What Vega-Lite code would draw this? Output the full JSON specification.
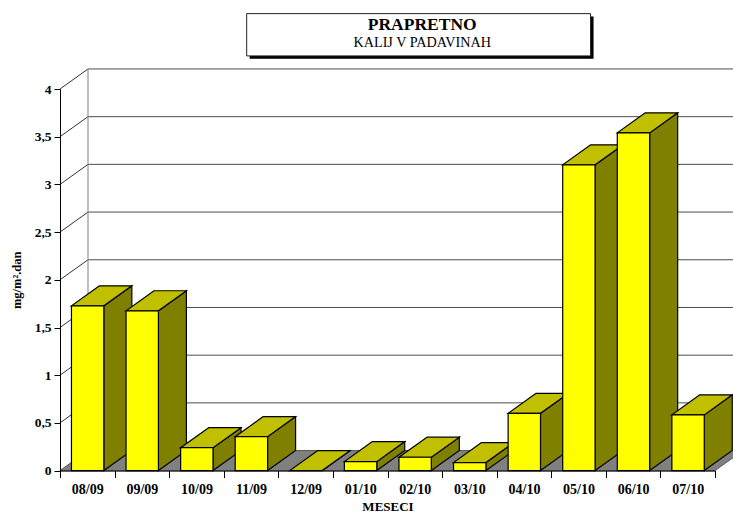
{
"$schema":"https://vega.github.io/schema/vega-lite/v6.json",
"autosize":{"type":"none"},
"padding":{"left":60,"top":89,"right":18,"bottom":43.4},
"width":655,"height":381.6,
"background":"white",
"config":{"view":{"stroke":null}},
"title":{"text":"PRAPRETNO","subtitle":"KALIJ V PADAVINAH","anchor":"middle","dx":34.7,"offset":-37,"font":"Liberation Serif","fontWeight":"bold","fontSize":17.5,"color":"black","subtitleFont":"Liberation Serif","subtitleFontSize":14.2,"subtitleColor":"black","subtitlePadding":2},
"datasets":{
"bars":[
{"month":"08/09","i":0,"value":1.727},
{"month":"09/09","i":1,"value":1.675},
{"month":"10/09","i":2,"value":0.24},
{"month":"11/09","i":3,"value":0.356},
{"month":"12/09","i":4,"value":0},
{"month":"01/10","i":5,"value":0.094},
{"month":"02/10","i":6,"value":0.14},
{"month":"03/10","i":7,"value":0.084},
{"month":"04/10","i":8,"value":0.6},
{"month":"05/10","i":9,"value":3.205},
{"month":"06/10","i":10,"value":3.54},
{"month":"07/10","i":11,"value":0.584}],
"levels":[{"level":0},{"level":0.5},{"level":1},{"level":1.5},{"level":2},{"level":2.5},{"level":3},{"level":3.5},{"level":4}],
"depth":[{"d":0},{"d":1}],
"box":[{"name":"title"}]
},
"encoding":{
  "y":{"type":"quantitative","scale":{"domain":[0,4],"nice":false},"title":"mg/m².dan",
   "axis":{"values":[0,0.5,1,1.5,2,2.5,3,3.5,4],"grid":false,"title":"mg/m².dan","labelExpr":"replace(format(datum.value,''),'.',',')","labelFont":"Liberation Serif","labelFontWeight":"bold","labelFontSize":13.5,"labelColor":"black","labelPadding":3,"tickColor":"black","tickSize":6,"domainColor":"black","titleFont":"Liberation Serif","titleFontWeight":"bold","titleFontSize":12.5,"titleColor":"black","titlePadding":11,"zindex":1}},
  "x":{"type":"quantitative","scale":{"domain":[0,12],"nice":false,"zero":false},"title":"MESECI",
   "axis":{"values":[0,1,2,3,4,5,6,7,8,9,10,11,12],"grid":false,"title":"MESECI","labelExpr":"['08/09','09/09','10/09','11/09','12/09','01/10','02/10','03/10','04/10','05/10','06/10','07/10',''][datum.value]","labelOffset":27.3,"labelFlush":false,"labelOverlap":false,"labelFont":"Liberation Serif","labelFontWeight":"bold","labelFontSize":14,"labelColor":"black","labelPadding":5,"tickColor":"black","tickSize":7,"domainColor":"black","titleFont":"Liberation Serif","titleFontWeight":"bold","titleFontSize":13,"titleColor":"black","titlePadding":4,"zindex":1}}
},
"layer":[
{"data":{"name":"depth"},
 "transform":[{"calculate":"datum.d*0.513","as":"x0"},{"calculate":"12+datum.d*0.513","as":"x1"},{"calculate":"datum.d*0.21","as":"yy"}],
 "mark":{"type":"area","orient":"horizontal","fill":"#808080","stroke":"#555555","strokeWidth":1},
 "encoding":{"y":{"field":"yy","type":"quantitative","stack":null},"x":{"field":"x0","type":"quantitative","stack":null},"x2":{"field":"x1"}}},
{"data":{"name":"levels"},
 "transform":[{"filter":"datum.level>0"},{"calculate":"datum.level+0.21","as":"wall"},{"calculate":"0.513","as":"xa"},{"calculate":"12.513","as":"xb"}],
 "mark":{"type":"rule","stroke":"#4d4d4d","strokeWidth":1},
 "encoding":{"x":{"field":"xa","type":"quantitative"},"x2":{"field":"xb"},"y":{"field":"wall","type":"quantitative"},"y2":{"field":"wall"}}},
{"data":{"name":"levels"},
 "transform":[{"filter":"datum.level>0"},{"calculate":"datum.level+0.21","as":"wall"},{"calculate":"0","as":"xa"},{"calculate":"0.513","as":"xb"}],
 "mark":{"type":"rule","stroke":"#333333","strokeWidth":1},
 "encoding":{"x":{"field":"xa","type":"quantitative"},"x2":{"field":"xb"},"y":{"field":"level","type":"quantitative"},"y2":{"field":"wall"}}},
{"data":{"name":"box"},
 "transform":[{"calculate":"0.513","as":"xa"},{"calculate":"0.21","as":"ya"},{"calculate":"4.21","as":"yb"}],
 "mark":{"type":"rule","stroke":"#808080","strokeWidth":1},
 "encoding":{"x":{"field":"xa","type":"quantitative"},"y":{"field":"ya","type":"quantitative"},"y2":{"field":"yb"}}},
{"data":{"name":"bars"},
 "transform":[{"calculate":"[0,1]","as":"d"},{"flatten":["d"]},{"calculate":"datum.i+0.803+datum.d*0.513","as":"xs"},{"calculate":"datum.value+datum.d*0.21","as":"ytop"},{"calculate":"datum.d*0.21","as":"ybot"}],
 "mark":{"type":"area","fill":"#808000","stroke":"black","strokeWidth":1.2},
 "encoding":{"x":{"field":"xs","type":"quantitative"},"y":{"field":"ytop","type":"quantitative","stack":null},"y2":{"field":"ybot"},"detail":{"field":"month"}}},
{"data":{"name":"bars"},
 "transform":[{"calculate":"[0,1]","as":"d"},{"flatten":["d"]},{"calculate":"datum.i+0.21+datum.d*0.513","as":"xl"},{"calculate":"datum.xl+0.593","as":"xr"},{"calculate":"datum.value+datum.d*0.21","as":"ytop"}],
 "mark":{"type":"area","orient":"horizontal","fill":"#C0C000","stroke":"black","strokeWidth":1.2},
 "encoding":{"y":{"field":"ytop","type":"quantitative","stack":null},"x":{"field":"xl","type":"quantitative","stack":null},"x2":{"field":"xr"},"detail":{"field":"month"}}},
{"data":{"name":"bars"},
 "transform":[{"filter":"datum.value>0"},{"calculate":"datum.i+0.21","as":"xl"},{"calculate":"datum.xl+0.593","as":"xr"},{"calculate":"0","as":"base"}],
 "mark":{"type":"rect","fill":"#FFFF00","stroke":"black","strokeWidth":1.2},
 "encoding":{"x":{"field":"xl","type":"quantitative"},"x2":{"field":"xr"},"y":{"field":"value","type":"quantitative"},"y2":{"field":"base"}}},
{"data":{"name":"box"},
 "transform":[{"calculate":"3.475","as":"xa"},{"calculate":"9.775","as":"xb"},{"calculate":"4.76","as":"ya"},{"calculate":"4.316","as":"yb"}],
 "mark":{"type":"rect","fill":"black"},
 "encoding":{"x":{"field":"xa","type":"quantitative"},"x2":{"field":"xb"},"y":{"field":"ya","type":"quantitative"},"y2":{"field":"yb"}}},
{"data":{"name":"box"},
 "transform":[{"calculate":"3.42","as":"xa"},{"calculate":"9.72","as":"xb"},{"calculate":"4.79","as":"ya"},{"calculate":"4.347","as":"yb"}],
 "mark":{"type":"rect","fill":"white","stroke":"#222222","strokeWidth":1},
 "encoding":{"x":{"field":"xa","type":"quantitative"},"x2":{"field":"xb"},"y":{"field":"ya","type":"quantitative"},"y2":{"field":"yb"}}}
]
}
